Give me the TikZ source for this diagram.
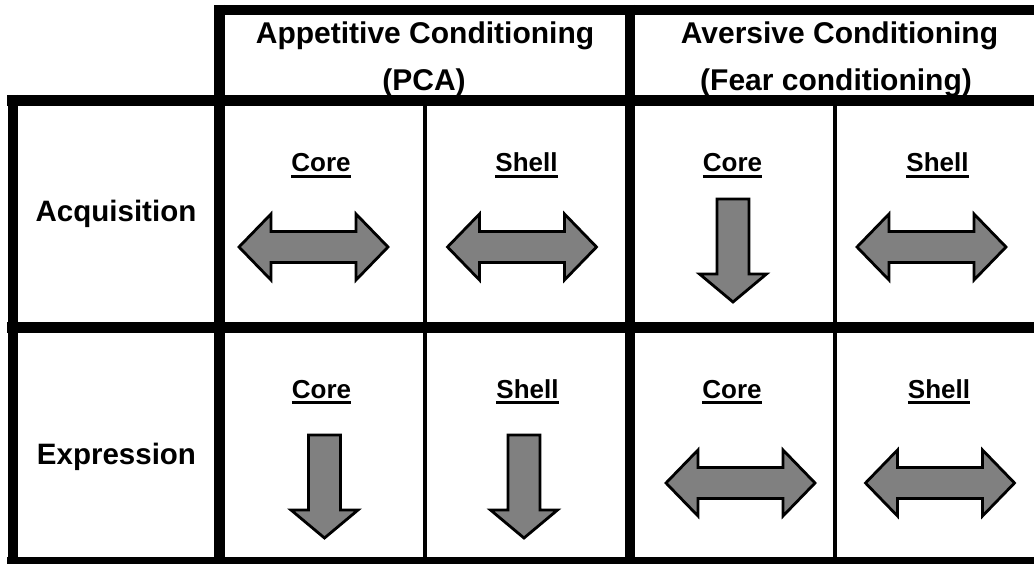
\documentclass[tikz,border=0pt]{standalone}
\usepackage{fontspec}
\setmainfont{Liberation Sans}
\newcommand\myul[1]{\setbox0\hbox{#1}\rlap{\rule[-6pt]{\wd0}{2.8pt}}\box0}
\begin{document}
\begin{tikzpicture}[x=1pt,y=-1pt,
  thickline/.style={line width=10.5pt,line cap=butt},
  thinline/.style={line width=4pt},
  arrowshape/.style={draw=black,fill=arrowgray,line width=2.8pt,line join=miter},
  headtext/.style={font=\fontsize{30}{36}\selectfont\bfseries,anchor=base,inner sep=0pt},
  rowtext/.style={font=\fontsize{29.5}{36}\selectfont\bfseries,anchor=base,inner sep=0pt},
  subtext/.style={font=\fontsize{26}{30}\selectfont\bfseries,anchor=base,inner sep=0pt},
  harrow/.pic={\draw[arrowshape] (-74.5,0) -- (-42.5,-33) -- (-42.5,-15.5) -- (42.5,-15.5) -- (42.5,-33) -- (74.5,0) -- (42.5,33) -- (42.5,15.5) -- (-42.5,15.5) -- (-42.5,33) -- cycle;},
  darrow/.pic={\draw[arrowshape] (-16,0) -- (16,0) -- (16,75) -- (33.5,75) -- (0,103) -- (-33.5,75) -- (-16,75) -- cycle;}
]
\definecolor{arrowgray}{HTML}{808080}
\useasboundingbox (0,0) rectangle (1034,564);
\fill[white] (0,0) rectangle (1034,564);
\begin{scope}
\clip (0,0) rectangle (1034,564);
% grid
\draw[thinline] (424.5,100) -- (424.5,570);
\draw[thinline] (835,100) -- (835,570);
\draw[thickline] (214,10) -- (1040,10);
\draw[thickline] (219.5,5) -- (219.5,570);
\draw[thickline] (630,5) -- (630,570);
\draw[thickline] (7,100.5) -- (1040,100.5);
\draw[thickline] (13,95) -- (13,570);
\draw[thickline] (7,327.5) -- (1040,327.5);
\draw[thickline] (7,562) -- (1040,562);
\end{scope}
% headers
\node[headtext] (h1a) at (425,44) {Appetitive Conditioning};
\node[headtext] (h1b) at (424,91) {(PCA)};
\node[headtext] (h2a) at (839.5,44) {Aversive Conditioning};
\node[headtext] (h2b) at (836,91) {(Fear conditioning)};
% row labels
\node[rowtext] (r1) at (116,222) {Acquisition};
\node[rowtext] (r2) at (116.5,464) {Expression};
% sub labels
\node[subtext] (c11) at (321,172) {\myul{Core}};
\node[subtext] (c12) at (526.5,172) {\myul{Shell}};
\node[subtext] (c13) at (732.5,172) {\myul{Core}};
\node[subtext] (c14) at (937.5,172) {\myul{Shell}};
\node[subtext] (c21) at (321.5,398) {\myul{Core}};
\node[subtext] (c22) at (527.5,398) {\myul{Shell}};
\node[subtext] (c23) at (732,398) {\myul{Core}};
\node[subtext] (c24) at (939,398) {\myul{Shell}};
% arrows
\pic at (313.5,247) {harrow};
\pic at (522,247) {harrow};
\pic at (733,199) {darrow};
\pic at (931.5,247) {harrow};
\pic at (324.5,435) {darrow};
\pic at (524,435) {darrow};
\pic at (740.5,483) {harrow};
\pic at (940,483) {harrow};
\end{tikzpicture}
\end{document}
